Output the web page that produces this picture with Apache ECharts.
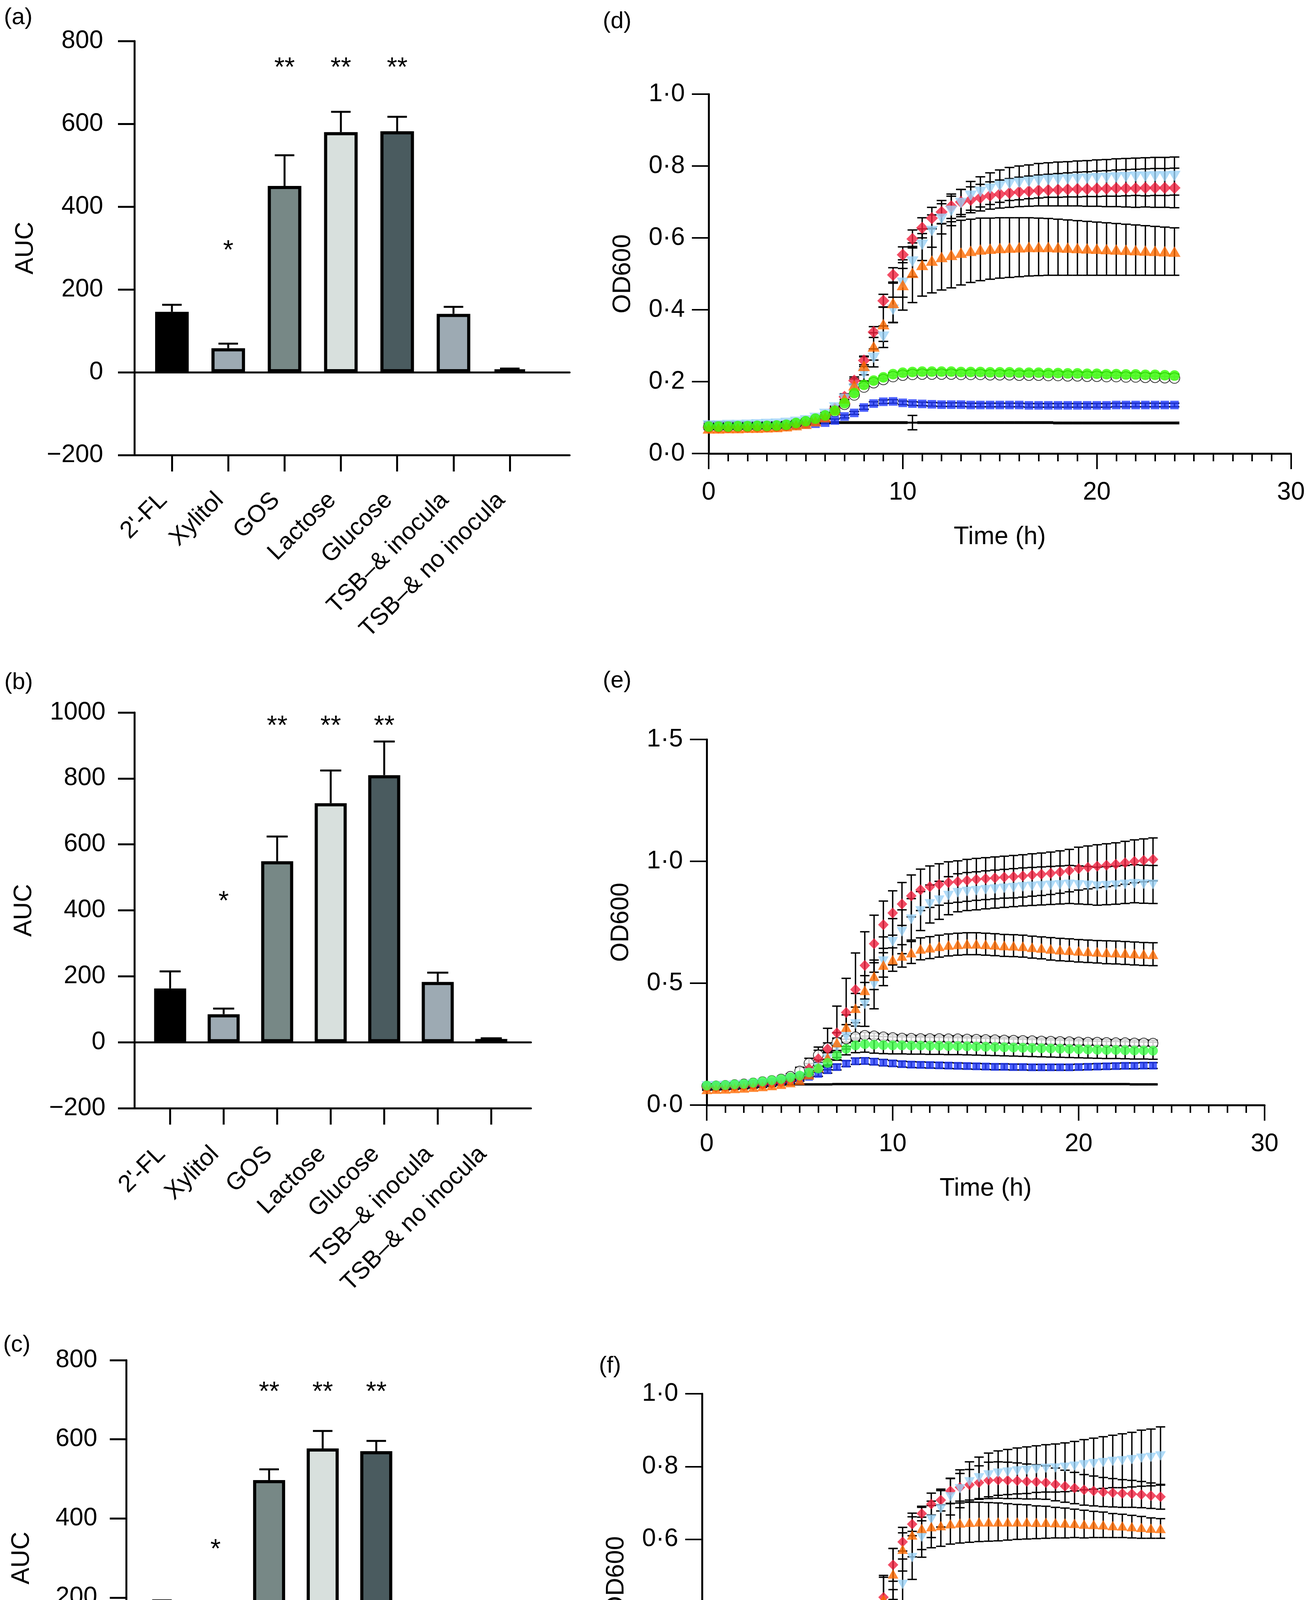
<!DOCTYPE html>
<html><head><meta charset="utf-8">
<script src="https://cdn.jsdelivr.net/npm/echarts@6/dist/echarts.min.js"></script>
<style>html,body{margin:0;padding:0;background:#fff}#c{width:3343px;height:5001px}</style>
</head><body><div id="c"></div>
<script>
// ---------------- DATA ----------------
const categories = ["2'-FL", "Xylitol", "GOS", "Lactose", "Glucose", "TSB\u2013& inocula", "TSB\u2013& no inocula"];
const sigMarks = ["", "*", "**", "**", "**", "", ""];
const aucA = [146, 58, 450, 580, 582, 141, 7];
const aucAErr = [17, 11, 74, 49, 35, 17, 2];
const sigLevelA = [null, 308, 750, 750, 750, null, null];
const aucB = [163, 85, 549, 725, 810, 183, 10];
const aucBErr = [52, 17, 75, 99, 102, 28, 2];
const sigLevelB = [null, 445, 977, 977, 977, null, null];
const aucC = [159, 88, 497, 577, 570, 150, 7];
const aucCErr = [34, 21, 27, 44, 26, 16, 2];
const sigLevelC = [null, 337, 735, 735, 735, null, null];

const timeH = [0,0.5,1,1.5,2,2.5,3,3.5,4,4.5,5,5.5,6,6.5,7,7.5,8,8.5,9,9.5,10,10.5,11,11.5,12,12.5,13,13.5,14,14.5,15,15.5,16,16.5,17,17.5,18,18.5,19,19.5,20,20.5,21,21.5,22,22.5,23,23.5,24];

// panel (d)
const dBlack = [0.074,0.074,0.074,0.075,0.075,0.076,0.076,0.077,0.079,0.083,0.088,0.095,0.104,0.117,0.137,0.163,0.185,0.197,0.206,0.214,0.218,0.220,0.221,0.221,0.221,0.221,0.220,0.220,0.220,0.219,0.219,0.219,0.218,0.218,0.218,0.217,0.217,0.216,0.216,0.215,0.215,0.214,0.214,0.213,0.213,0.212,0.212,0.211,0.210];
const dBlackSD = [0.004,0.004,0.004,0.004,0.004,0.004,0.004,0.004,0.004,0.004,0.004,0.004,0.004,0.004,0.004,0.004,0.004,0.004,0.004,0.004,0.004,0.004,0.004,0.004,0.004,0.004,0.004,0.004,0.004,0.004,0.004,0.004,0.004,0.004,0.004,0.004,0.004,0.004,0.004,0.004,0.004,0.004,0.004,0.004,0.004,0.004,0.004,0.004,0.004];
const dBlue = [0.075,0.075,0.075,0.076,0.076,0.077,0.077,0.078,0.078,0.079,0.081,0.083,0.086,0.092,0.103,0.113,0.128,0.139,0.144,0.145,0.141,0.139,0.138,0.137,0.136,0.136,0.136,0.135,0.135,0.135,0.135,0.135,0.135,0.134,0.134,0.134,0.134,0.134,0.134,0.134,0.134,0.134,0.135,0.135,0.135,0.135,0.135,0.135,0.135];
const dBlueSD = [0.003,0.003,0.003,0.003,0.003,0.003,0.003,0.003,0.003,0.003,0.003,0.003,0.003,0.004,0.004,0.004,0.005,0.005,0.005,0.005,0.005,0.005,0.005,0.005,0.005,0.005,0.005,0.005,0.005,0.005,0.005,0.005,0.005,0.005,0.005,0.005,0.005,0.005,0.005,0.005,0.005,0.005,0.005,0.005,0.005,0.005,0.005,0.005,0.005];
const dRed = [0.072,0.072,0.073,0.073,0.074,0.074,0.075,0.076,0.078,0.081,0.086,0.094,0.106,0.125,0.158,0.203,0.259,0.338,0.425,0.497,0.553,0.597,0.628,0.655,0.672,0.688,0.700,0.706,0.712,0.718,0.722,0.725,0.728,0.730,0.732,0.733,0.734,0.735,0.736,0.736,0.737,0.737,0.738,0.738,0.738,0.739,0.739,0.739,0.739];
const dRedSD = [0.004,0.004,0.004,0.004,0.004,0.004,0.004,0.004,0.004,0.004,0.004,0.004,0.004,0.004,0.008,0.010,0.012,0.015,0.018,0.020,0.022,0.025,0.028,0.030,0.032,0.034,0.035,0.036,0.037,0.038,0.039,0.040,0.041,0.042,0.043,0.044,0.045,0.046,0.047,0.048,0.049,0.050,0.051,0.052,0.053,0.053,0.054,0.054,0.055];
const dLBlue = [0.078,0.078,0.079,0.079,0.080,0.081,0.082,0.083,0.085,0.088,0.092,0.099,0.110,0.128,0.152,0.180,0.222,0.266,0.325,0.400,0.475,0.534,0.581,0.619,0.653,0.675,0.697,0.717,0.728,0.737,0.744,0.750,0.753,0.756,0.759,0.761,0.762,0.763,0.764,0.765,0.766,0.767,0.768,0.769,0.770,0.770,0.771,0.771,0.772];
const dLBlueSD = [0.004,0.004,0.004,0.004,0.004,0.004,0.004,0.004,0.004,0.004,0.004,0.004,0.004,0.004,0.008,0.012,0.020,0.025,0.030,0.035,0.040,0.042,0.044,0.045,0.042,0.041,0.038,0.040,0.042,0.044,0.045,0.046,0.047,0.047,0.048,0.048,0.049,0.049,0.050,0.050,0.051,0.051,0.052,0.052,0.052,0.053,0.053,0.053,0.053];
const dOrange = [0.070,0.070,0.071,0.071,0.072,0.072,0.073,0.074,0.076,0.079,0.083,0.090,0.101,0.122,0.153,0.190,0.244,0.298,0.360,0.419,0.469,0.503,0.525,0.537,0.547,0.553,0.559,0.564,0.568,0.570,0.572,0.573,0.574,0.575,0.575,0.575,0.574,0.573,0.572,0.571,0.570,0.569,0.568,0.567,0.566,0.565,0.564,0.563,0.562];
const dOrangeSD = [0.003,0.003,0.003,0.003,0.003,0.003,0.003,0.003,0.003,0.003,0.003,0.003,0.005,0.008,0.012,0.018,0.025,0.038,0.048,0.055,0.070,0.083,0.087,0.090,0.092,0.092,0.090,0.088,0.087,0.085,0.084,0.083,0.082,0.081,0.080,0.079,0.078,0.077,0.076,0.075,0.074,0.073,0.072,0.071,0.070,0.069,0.068,0.067,0.066];
const dGreen = [0.075,0.075,0.075,0.076,0.076,0.077,0.077,0.078,0.080,0.085,0.090,0.097,0.106,0.119,0.140,0.168,0.191,0.203,0.212,0.221,0.225,0.227,0.228,0.228,0.228,0.228,0.227,0.227,0.227,0.226,0.226,0.226,0.225,0.225,0.225,0.224,0.224,0.223,0.223,0.222,0.222,0.221,0.221,0.220,0.220,0.219,0.219,0.218,0.217];
const dGreenSD = [0.004,0.004,0.004,0.004,0.004,0.004,0.004,0.004,0.004,0.004,0.004,0.004,0.004,0.004,0.004,0.004,0.004,0.004,0.004,0.004,0.004,0.004,0.004,0.004,0.004,0.004,0.004,0.004,0.004,0.004,0.004,0.004,0.004,0.004,0.004,0.004,0.004,0.004,0.004,0.004,0.004,0.004,0.004,0.004,0.004,0.004,0.004,0.004,0.004];
const dNone = [0.086,0.086,0.086,0.086,0.086,0.086,0.086,0.086,0.086,0.086,0.086,0.086,0.086,0.086,0.086,0.086,0.086,0.086,0.086,0.086,0.086,0.086,0.086,0.086,0.086,0.086,0.086,0.086,0.086,0.086,0.086,0.086,0.086,0.086,0.086,0.086,0.085,0.085,0.085,0.085,0.085,0.085,0.085,0.085,0.085,0.085,0.085,0.085,0.085];
const dNoneSD = [0.002,0.002,0.002,0.002,0.002,0.002,0.002,0.002,0.002,0.002,0.002,0.002,0.002,0.002,0.002,0.002,0.002,0.002,0.002,0.002,0.002,0.020,0.002,0.002,0.002,0.002,0.002,0.002,0.002,0.002,0.002,0.002,0.002,0.002,0.002,0.002,0.002,0.002,0.002,0.002,0.002,0.002,0.002,0.002,0.002,0.002,0.002,0.002,0.002];

// panel (e)
const eBlack = [0.078,0.079,0.081,0.084,0.087,0.091,0.096,0.101,0.107,0.118,0.140,0.172,0.205,0.235,0.258,0.271,0.280,0.286,0.284,0.280,0.277,0.275,0.274,0.273,0.273,0.273,0.272,0.272,0.271,0.270,0.269,0.268,0.267,0.266,0.265,0.264,0.263,0.262,0.261,0.260,0.259,0.258,0.258,0.257,0.256,0.256,0.255,0.255,0.254];
const eBlackSD = [0.005,0.005,0.005,0.005,0.005,0.005,0.005,0.005,0.005,0.010,0.015,0.020,0.020,0.020,0.015,0.012,0.012,0.012,0.012,0.012,0.012,0.012,0.012,0.012,0.012,0.012,0.012,0.012,0.012,0.012,0.012,0.012,0.012,0.012,0.012,0.012,0.012,0.012,0.012,0.012,0.012,0.012,0.012,0.012,0.012,0.012,0.012,0.012,0.012];
const eBlue = [0.079,0.080,0.081,0.083,0.085,0.088,0.091,0.094,0.097,0.101,0.106,0.116,0.128,0.143,0.156,0.170,0.180,0.181,0.178,0.174,0.171,0.168,0.166,0.165,0.164,0.163,0.162,0.161,0.160,0.159,0.158,0.157,0.157,0.156,0.156,0.155,0.155,0.155,0.155,0.155,0.156,0.157,0.158,0.159,0.160,0.161,0.161,0.162,0.162];
const eBlueSD = [0.004,0.004,0.004,0.004,0.004,0.004,0.004,0.004,0.004,0.004,0.006,0.008,0.010,0.012,0.012,0.012,0.013,0.013,0.013,0.013,0.012,0.012,0.012,0.012,0.012,0.012,0.012,0.012,0.012,0.012,0.012,0.012,0.012,0.012,0.012,0.012,0.012,0.012,0.012,0.012,0.012,0.012,0.012,0.012,0.012,0.012,0.012,0.012,0.012];
const eRed = [0.072,0.073,0.074,0.076,0.078,0.081,0.084,0.088,0.093,0.100,0.112,0.150,0.190,0.230,0.296,0.380,0.474,0.573,0.662,0.740,0.788,0.825,0.858,0.883,0.896,0.905,0.913,0.917,0.922,0.926,0.929,0.932,0.935,0.937,0.940,0.944,0.947,0.951,0.956,0.962,0.970,0.975,0.980,0.984,0.988,0.994,1.000,1.004,1.008];
const eRedSD = [0.005,0.005,0.005,0.005,0.005,0.005,0.005,0.005,0.005,0.005,0.010,0.020,0.048,0.085,0.110,0.140,0.150,0.138,0.117,0.097,0.091,0.088,0.086,0.085,0.085,0.085,0.085,0.085,0.086,0.086,0.086,0.086,0.086,0.087,0.087,0.087,0.087,0.087,0.087,0.087,0.088,0.088,0.088,0.088,0.088,0.088,0.088,0.088,0.088];
const eLBlue = [0.078,0.079,0.080,0.082,0.084,0.087,0.090,0.094,0.099,0.106,0.116,0.132,0.155,0.190,0.235,0.280,0.332,0.413,0.495,0.590,0.670,0.711,0.762,0.796,0.825,0.840,0.859,0.871,0.876,0.879,0.883,0.886,0.889,0.892,0.895,0.897,0.899,0.901,0.903,0.905,0.903,0.901,0.898,0.900,0.902,0.905,0.908,0.906,0.905];
const eLBlueSD = [0.005,0.005,0.005,0.005,0.005,0.005,0.005,0.005,0.005,0.005,0.005,0.005,0.020,0.030,0.040,0.050,0.070,0.090,0.100,0.100,0.095,0.090,0.085,0.080,0.078,0.078,0.078,0.078,0.078,0.078,0.078,0.078,0.078,0.078,0.078,0.078,0.078,0.078,0.078,0.078,0.078,0.078,0.078,0.078,0.078,0.078,0.078,0.078,0.078];
const eOrange = [0.065,0.066,0.067,0.069,0.071,0.074,0.077,0.081,0.086,0.093,0.102,0.125,0.155,0.195,0.257,0.320,0.398,0.471,0.529,0.575,0.597,0.612,0.626,0.641,0.646,0.652,0.657,0.660,0.662,0.662,0.660,0.658,0.655,0.654,0.652,0.648,0.645,0.641,0.638,0.636,0.633,0.631,0.629,0.627,0.626,0.624,0.622,0.620,0.619];
const eOrangeSD = [0.004,0.004,0.004,0.004,0.004,0.004,0.004,0.004,0.004,0.004,0.004,0.010,0.020,0.030,0.040,0.050,0.060,0.060,0.055,0.050,0.048,0.046,0.045,0.045,0.045,0.045,0.045,0.045,0.045,0.045,0.045,0.045,0.045,0.045,0.045,0.045,0.045,0.046,0.046,0.046,0.046,0.046,0.046,0.047,0.047,0.047,0.047,0.047,0.047];
const eGreen = [0.080,0.080,0.082,0.085,0.087,0.092,0.097,0.102,0.107,0.114,0.121,0.134,0.150,0.173,0.204,0.231,0.245,0.250,0.248,0.246,0.245,0.245,0.244,0.244,0.243,0.243,0.242,0.242,0.241,0.240,0.239,0.238,0.237,0.236,0.235,0.234,0.233,0.232,0.231,0.230,0.229,0.228,0.227,0.226,0.226,0.225,0.224,0.224,0.223];
const eGreenSD = [0.004,0.004,0.004,0.004,0.004,0.004,0.004,0.004,0.004,0.004,0.006,0.008,0.010,0.015,0.020,0.025,0.030,0.033,0.035,0.035,0.035,0.035,0.035,0.035,0.035,0.035,0.035,0.035,0.035,0.035,0.035,0.035,0.035,0.035,0.035,0.035,0.035,0.035,0.035,0.035,0.035,0.035,0.035,0.035,0.035,0.035,0.035,0.035,0.035];
const eNone = [0.085,0.085,0.085,0.085,0.085,0.085,0.085,0.085,0.085,0.085,0.085,0.085,0.085,0.085,0.086,0.086,0.086,0.086,0.086,0.086,0.086,0.086,0.086,0.086,0.086,0.086,0.086,0.086,0.086,0.086,0.086,0.086,0.086,0.086,0.086,0.086,0.086,0.086,0.086,0.086,0.086,0.086,0.086,0.086,0.086,0.086,0.085,0.085,0.085];
const eNoneSD = [0.002,0.002,0.002,0.002,0.002,0.002,0.002,0.002,0.002,0.002,0.002,0.002,0.002,0.002,0.002,0.002,0.002,0.002,0.002,0.002,0.002,0.002,0.002,0.002,0.002,0.002,0.002,0.002,0.002,0.002,0.002,0.002,0.002,0.002,0.002,0.002,0.002,0.002,0.002,0.002,0.002,0.002,0.002,0.002,0.002,0.002,0.002,0.002,0.002];

// panel (f)
const fBlack = [0.082,0.082,0.082,0.082,0.082,0.083,0.083,0.084,0.085,0.087,0.090,0.094,0.099,0.110,0.128,0.152,0.180,0.206,0.226,0.237,0.242,0.240,0.236,0.233,0.232,0.231,0.231,0.231,0.231,0.231,0.232,0.232,0.233,0.233,0.234,0.234,0.235,0.236,0.236,0.237,0.238,0.239,0.240,0.241,0.241,0.242,0.243,0.243,0.244];
const fBlackSD = [0.015,0.015,0.015,0.015,0.015,0.015,0.015,0.015,0.015,0.015,0.015,0.015,0.015,0.015,0.015,0.015,0.018,0.020,0.020,0.020,0.020,0.020,0.020,0.020,0.020,0.020,0.020,0.020,0.020,0.020,0.020,0.020,0.020,0.020,0.020,0.020,0.020,0.020,0.020,0.020,0.020,0.020,0.020,0.020,0.020,0.020,0.020,0.020,0.020];
const fBlue = [0.080,0.080,0.080,0.080,0.081,0.081,0.082,0.082,0.083,0.085,0.087,0.091,0.097,0.108,0.124,0.143,0.160,0.173,0.173,0.172,0.171,0.171,0.171,0.171,0.171,0.171,0.171,0.172,0.172,0.172,0.173,0.173,0.174,0.174,0.175,0.176,0.176,0.177,0.177,0.178,0.178,0.179,0.180,0.180,0.181,0.182,0.183,0.183,0.184];
const fBlueSD = [0.015,0.015,0.015,0.015,0.015,0.015,0.015,0.015,0.015,0.015,0.015,0.015,0.015,0.015,0.015,0.016,0.018,0.020,0.020,0.020,0.020,0.020,0.020,0.020,0.020,0.020,0.021,0.021,0.021,0.021,0.022,0.022,0.022,0.022,0.023,0.023,0.023,0.023,0.024,0.024,0.024,0.024,0.025,0.025,0.025,0.026,0.026,0.026,0.026];
const fRed = [0.075,0.075,0.076,0.076,0.076,0.077,0.077,0.078,0.079,0.081,0.084,0.090,0.097,0.110,0.130,0.160,0.205,0.264,0.345,0.441,0.530,0.593,0.642,0.671,0.697,0.708,0.733,0.743,0.750,0.756,0.762,0.763,0.762,0.761,0.759,0.758,0.756,0.751,0.746,0.741,0.736,0.733,0.730,0.728,0.726,0.725,0.723,0.720,0.717];
const fRedSD = [0.015,0.015,0.015,0.015,0.015,0.015,0.015,0.015,0.015,0.015,0.015,0.015,0.015,0.015,0.015,0.020,0.025,0.030,0.045,0.060,0.045,0.025,0.020,0.020,0.030,0.030,0.035,0.038,0.042,0.046,0.050,0.050,0.050,0.049,0.048,0.047,0.046,0.045,0.044,0.043,0.042,0.041,0.040,0.039,0.038,0.037,0.036,0.035,0.034];
const fLBlue = [0.078,0.078,0.079,0.079,0.079,0.080,0.080,0.081,0.082,0.084,0.087,0.092,0.099,0.112,0.132,0.160,0.200,0.225,0.255,0.319,0.390,0.476,0.550,0.606,0.655,0.684,0.717,0.739,0.758,0.769,0.777,0.782,0.785,0.788,0.790,0.793,0.795,0.796,0.798,0.801,0.805,0.808,0.811,0.814,0.816,0.819,0.823,0.825,0.829];
const fLBlueSD = [0.015,0.015,0.015,0.015,0.015,0.015,0.015,0.015,0.015,0.015,0.015,0.015,0.015,0.015,0.015,0.015,0.030,0.040,0.060,0.070,0.072,0.070,0.060,0.055,0.050,0.050,0.050,0.052,0.055,0.057,0.060,0.061,0.062,0.063,0.064,0.064,0.065,0.066,0.067,0.068,0.069,0.070,0.071,0.072,0.074,0.075,0.077,0.078,0.080];
const fOrange = [0.072,0.072,0.073,0.073,0.073,0.074,0.074,0.075,0.076,0.078,0.082,0.088,0.095,0.108,0.135,0.171,0.218,0.280,0.358,0.436,0.505,0.573,0.612,0.630,0.635,0.638,0.643,0.645,0.647,0.648,0.648,0.648,0.648,0.648,0.648,0.647,0.647,0.646,0.645,0.644,0.642,0.641,0.640,0.638,0.637,0.635,0.633,0.631,0.630];
const fOrangeSD = [0.015,0.015,0.015,0.015,0.015,0.015,0.015,0.015,0.015,0.015,0.015,0.015,0.015,0.015,0.020,0.025,0.030,0.040,0.050,0.060,0.070,0.060,0.060,0.058,0.058,0.057,0.056,0.055,0.055,0.054,0.053,0.052,0.050,0.048,0.047,0.045,0.044,0.042,0.041,0.039,0.038,0.036,0.035,0.033,0.032,0.031,0.030,0.028,0.027];
const fGreen = [0.083,0.083,0.083,0.083,0.083,0.084,0.084,0.085,0.086,0.088,0.091,0.096,0.101,0.113,0.132,0.158,0.188,0.216,0.235,0.246,0.249,0.252,0.251,0.248,0.246,0.246,0.245,0.245,0.245,0.245,0.246,0.246,0.246,0.247,0.248,0.249,0.250,0.251,0.251,0.252,0.252,0.254,0.256,0.257,0.259,0.259,0.260,0.260,0.260];
const fGreenSD = [0.015,0.015,0.015,0.015,0.015,0.015,0.015,0.015,0.015,0.015,0.015,0.015,0.015,0.015,0.015,0.018,0.020,0.022,0.025,0.028,0.028,0.028,0.028,0.028,0.028,0.028,0.028,0.028,0.028,0.028,0.028,0.028,0.028,0.028,0.028,0.028,0.028,0.028,0.028,0.028,0.028,0.028,0.028,0.028,0.028,0.028,0.028,0.028,0.028];
const fNone = [0.085,0.085,0.085,0.085,0.085,0.085,0.085,0.085,0.085,0.085,0.085,0.085,0.085,0.085,0.085,0.085,0.085,0.085,0.085,0.085,0.085,0.085,0.085,0.085,0.085,0.085,0.085,0.085,0.085,0.085,0.085,0.085,0.085,0.085,0.085,0.085,0.085,0.085,0.085,0.085,0.085,0.085,0.085,0.085,0.085,0.085,0.085,0.085,0.085];
const fNoneSD = [0.019,0.019,0.019,0.019,0.019,0.019,0.019,0.019,0.019,0.019,0.019,0.019,0.019,0.019,0.019,0.019,0.019,0.019,0.019,0.019,0.019,0.019,0.019,0.019,0.019,0.019,0.019,0.019,0.019,0.019,0.019,0.019,0.019,0.019,0.019,0.019,0.019,0.019,0.019,0.019,0.019,0.019,0.019,0.019,0.019,0.019,0.019,0.019,0.019];

// ---------------- STYLE / LAYOUT ----------------
const FONT = "'Liberation Sans', Arial, Helvetica, sans-serif";
const barColors = ['#000000', '#9DAAB3', '#778886', '#D8E0DD', '#4A5B5F', '#9DAAB3', '#000000'];

const grids = [], xAxes = [], yAxes = [], series = [], titles = [];

function fmtAuc(v) { return v < 0 ? '\u2212' + Math.abs(v) : String(v); }
function fmtDot(v) { return v.toFixed(1).replace('.', '\u00B7'); }

function addBarPanel(P) {
  const gF = grids.length; grids.push({left: P.left, top: P.top, width: P.width, height: P.height});
  const gB = grids.length; grids.push({left: P.barsLeft, top: P.top, width: P.barsWidth, height: P.height});
  const lineSt = {color: '#000', width: 5};
  xAxes.push({gridIndex: gF, type: 'value', min: 0, max: 1, position: 'bottom',
    axisLine: {show: true, onZero: false, lineStyle: lineSt}, axisTick: {show: false}, axisLabel: {show: false}, splitLine: {show: false}});
  xAxes.push({gridIndex: gF, type: 'value', min: 0, max: 1, position: 'bottom',
    axisLine: {show: true, onZero: true, lineStyle: lineSt}, axisTick: {show: false}, axisLabel: {show: false}, splitLine: {show: false}});
  const xb = xAxes.length;
  xAxes.push({gridIndex: gB, type: 'category', data: categories, position: 'bottom',
    axisLine: {show: false, onZero: false},
    axisTick: {show: true, alignWithLabel: true, length: 42, lineStyle: lineSt},
    axisLabel: {rotate: 45, interval: 0, margin: P.catMargin, fontSize: 62, color: '#000', fontFamily: FONT, verticalAlign: 'bottom'},
    splitLine: {show: false}});
  yAxes.push({gridIndex: gF, type: 'value', min: -200, max: P.yMax, interval: 200,
    axisLine: {show: true, onZero: false, lineStyle: lineSt},
    axisTick: {show: true, length: 42, lineStyle: lineSt},
    axisLabel: {fontSize: 64, color: '#000', fontFamily: FONT, margin: P.yLabelMargin, formatter: fmtAuc},
    splitLine: {show: false},
    name: 'AUC', nameLocation: 'middle', nameGap: P.nameGap,
    nameTextStyle: {fontSize: 64, color: '#000', fontFamily: FONT}});
  const yb = yAxes.length;
  yAxes.push({gridIndex: gB, type: 'value', min: -200, max: P.yMax, show: false});

  series.push({type: 'bar', xAxisIndex: xb, yAxisIndex: yb, barWidth: P.barWidth,
    data: P.mean.map((v, i) => ({value: v, itemStyle: {color: barColors[i]}})),
    itemStyle: {borderColor: '#000', borderWidth: 8}, z: 2});
  const hw = P.capHW;
  series.push({type: 'custom', xAxisIndex: xb, yAxisIndex: yb, z: 3,
    data: P.mean.map((v, i) => [i, v, v + P.err[i]]),
    renderItem: function (params, api) {
      const p0 = api.coord([api.value(0), api.value(1)]);
      const p1 = api.coord([api.value(0), api.value(2)]);
      return {type: 'group', children: [
        {type: 'line', shape: {x1: p0[0], y1: p0[1], x2: p1[0], y2: p1[1]}, style: {stroke: '#000', lineWidth: 5}},
        {type: 'line', shape: {x1: p1[0] - hw, y1: p1[1], x2: p1[0] + hw, y2: p1[1]}, style: {stroke: '#000', lineWidth: 5}}
      ]};
    }});
  const sigData = [], sigText = [];
  P.sigY.forEach((y, i) => { if (y != null && sigMarks[i]) { sigData.push([i, y]); sigText.push(sigMarks[i]); } });
  series.push({type: 'custom', xAxisIndex: xb, yAxisIndex: yb, z: 4, data: sigData,
    renderItem: function (params, api) {
      const p = api.coord([api.value(0), api.value(1)]);
      return {type: 'text', x: p[0], y: p[1] + 17,
        style: {text: sigText[params.dataIndex], fill: '#000', fontSize: 68, fontFamily: FONT, align: 'center', verticalAlign: 'middle'}};
    }});
  titles.push({text: P.label, left: P.labelLeft, top: P.labelTop,
    textStyle: {fontSize: 60, fontWeight: 'normal', color: '#000', fontFamily: FONT}});
}

function errRender(hw, lw) {
  return function (params, api) {
    const x = api.value(0);
    const a = api.coord([x, api.value(1)]);
    const b = api.coord([x, api.value(2)]);
    const st = {stroke: '#000', lineWidth: lw};
    return {type: 'group', children: [
      {type: 'line', shape: {x1: a[0], y1: a[1], x2: b[0], y2: b[1]}, style: st},
      {type: 'line', shape: {x1: a[0] - hw, y1: a[1], x2: a[0] + hw, y2: a[1]}, style: st},
      {type: 'line', shape: {x1: b[0] - hw, y1: b[1], x2: b[0] + hw, y2: b[1]}, style: st}
    ]};
  };
}

function addGrowthPanel(P) {
  const g = grids.length; grids.push({left: P.left, top: P.top, width: P.width, height: P.height});
  const xi = xAxes.length;
  xAxes.push({gridIndex: g, type: 'value', min: 0, max: 30, interval: 10,
    axisLine: {onZero: false, lineStyle: {color: '#000', width: 5}},
    axisTick: {show: true, length: 40, lineStyle: {color: '#000', width: 4}},
    minorTick: {show: true, splitNumber: 10, length: 20, lineStyle: {color: '#000', width: 4}},
    axisLabel: {fontSize: 64, color: '#000', fontFamily: FONT, margin: 68},
    splitLine: {show: false}, minorSplitLine: {show: false},
    name: 'Time (h)', nameLocation: 'middle', nameGap: 182,
    nameTextStyle: {fontSize: 64, color: '#000', fontFamily: FONT}});
  const yi = yAxes.length;
  yAxes.push({gridIndex: g, type: 'value', min: 0, max: P.yMax, interval: P.yInt,
    axisLine: {onZero: false, lineStyle: {color: '#000', width: 5}},
    axisTick: {show: true, length: 43, lineStyle: {color: '#000', width: 4}},
    axisLabel: {fontSize: 64, color: '#000', fontFamily: FONT, margin: 61, formatter: fmtDot},
    splitLine: {show: false},
    name: 'OD600', nameLocation: 'middle', nameGap: 187,
    nameTextStyle: {fontSize: 64, color: '#000', fontFamily: FONT}});

  // error bars (behind markers)
  const allGroups = P.groups.concat([{mean: P.none, sd: P.noneSD}]);
  allGroups.forEach(G => {
    series.push({type: 'custom', xAxisIndex: xi, yAxisIndex: yi, z: 3,
      data: timeH.map((t, i) => [t, G.mean[i] - G.sd[i], G.mean[i] + G.sd[i]]),
      encode: {x: 0, y: 1},
      renderItem: errRender(P.capHW, 3.5)});
  });
  // no-inocula control line
  series.push({type: 'line', xAxisIndex: xi, yAxisIndex: yi, z: 4, symbol: 'none',
    data: timeH.map((t, i) => [t, P.none[i]]), lineStyle: {color: '#000', width: 5}});
  // markers
  P.groups.forEach(G => {
    series.push({type: 'scatter', xAxisIndex: xi, yAxisIndex: yi, z: 5,
      symbol: G.symbol, symbolSize: G.size, symbolRotate: G.rotate || 0,
      data: timeH.map((t, i) => [t, G.mean[i]]), itemStyle: G.style});
  });
  titles.push({text: P.label, left: P.labelLeft, top: P.labelTop,
    textStyle: {fontSize: 60, fontWeight: 'normal', color: '#000', fontFamily: FONT}});
}

addBarPanel({label: '(a)', labelLeft: 5, labelTop: 10, left: 344, top: 105, width: 1114, height: 1060,
  barsLeft: 368, barsWidth: 1009, yMax: 800, mean: aucA, err: aucAErr, sigY: sigLevelA,
  barWidth: 86, capHW: 25, catMargin: 128, yLabelMargin: 80, nameGap: 246});
addBarPanel({label: '(b)', labelLeft: 6, labelTop: 1712, left: 344, top: 1824, width: 1015, height: 1013,
  barsLeft: 367, barsWidth: 959, yMax: 1000, mean: aucB, err: aucBErr, sigY: sigLevelB,
  barWidth: 82, capHW: 27, catMargin: 130, yLabelMargin: 74, nameGap: 250});
addBarPanel({label: '(c)', labelLeft: 3, labelTop: 3408, left: 323, top: 3482, width: 1015, height: 1013,
  barsLeft: 346, barsWidth: 960, yMax: 800, mean: aucC, err: aucCErr, sigY: sigLevelC,
  barWidth: 82, capHW: 25, catMargin: 128, yLabelMargin: 74, nameGap: 235});

function groupsFor(black, blackSD, blue, blueSD, red, redSD, lb, lbSD, org, orgSD, grn, grnSD, sz, green) {
  return [
    {mean: black, sd: blackSD, symbol: 'emptyCircle', size: sz.circle, style: {color: '#000', borderColor: '#000', borderWidth: 4}},
    {mean: blue, sd: blueSD, symbol: 'rect', size: sz.rect, style: {color: '#233CFF'}},
    {mean: red, sd: redSD, symbol: 'diamond', size: sz.diamond, style: {color: '#F0203F'}},
    {mean: lb, sd: lbSD, symbol: 'triangle', rotate: 180, size: sz.tri, style: {color: '#9CD3F7'}},
    {mean: org, sd: orgSD, symbol: 'triangle', size: sz.tri, style: {color: '#FF6A00'}},
    {mean: grn, sd: grnSD, symbol: 'circle', size: sz.circle, style: {color: green}}
  ];
}

addGrowthPanel({label: '(d)', labelLeft: 1538, labelTop: 20, left: 1814, top: 241, width: 1497, height: 920,
  yMax: 1, yInt: 0.2, capHW: 12.5, none: dNone, noneSD: dNoneSD,
  groups: groupsFor(dBlack, dBlackSD, dBlue, dBlueSD, dRed, dRedSD, dLBlue, dLBlueSD, dOrange, dOrangeSD, dGreen, dGreenSD,
    {circle: 27, rect: 22, diamond: [31, 31], tri: [31, 27]}, '#33FF00')});
addGrowthPanel({label: '(e)', labelLeft: 1538, labelTop: 1708, left: 1809, top: 1893, width: 1428, height: 936,
  yMax: 1.5, yInt: 0.5, capHW: 12, none: eNone, noneSD: eNoneSD,
  groups: groupsFor(eBlack, eBlackSD, eBlue, eBlueSD, eRed, eRedSD, eLBlue, eLBlueSD, eOrange, eOrangeSD, eGreen, eGreenSD,
    {circle: 25, rect: 20, diamond: [27, 28], tri: [27, 25]}, '#3CFF46')});
addGrowthPanel({label: '(f)', labelLeft: 1528, labelTop: 3462, left: 1797, top: 3568, width: 1467, height: 932,
  yMax: 1, yInt: 0.2, capHW: 12, none: fNone, noneSD: fNoneSD,
  groups: groupsFor(fBlack, fBlackSD, fBlue, fBlueSD, fRed, fRedSD, fLBlue, fLBlueSD, fOrange, fOrangeSD, fGreen, fGreenSD,
    {circle: 20, rect: 19, diamond: [27, 27], tri: [27, 24]}, '#4DEB4D')});

const chart = echarts.init(document.getElementById('c'), null, {renderer: 'canvas', width: 3343, height: 5001});
chart.setOption({
  backgroundColor: '#fff',
  animation: false,
  textStyle: {fontFamily: FONT, color: '#000'},
  title: titles,
  grid: grids,
  xAxis: xAxes,
  yAxis: yAxes,
  series: series
});
</script></body></html>
